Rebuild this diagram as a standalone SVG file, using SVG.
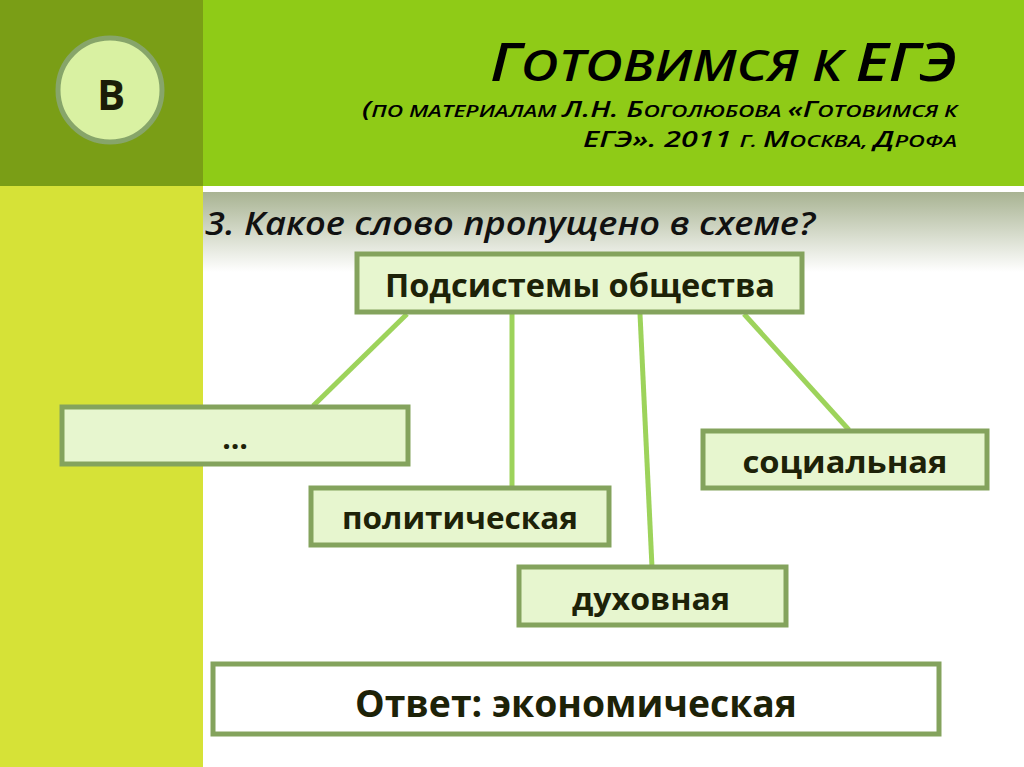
<svg xmlns="http://www.w3.org/2000/svg" width="1024" height="767" viewBox="0 0 1024 767">
<defs>
<linearGradient id="band" x1="0" y1="0" x2="0" y2="1">
<stop offset="0" stop-color="#a8b392"/>
<stop offset="1" stop-color="#ffffff"/>
</linearGradient>
<style>
.box{fill:#e7f6cf;stroke:#84a35d;stroke-width:5;}
.lbl{font-family:"Open Sans","Liberation Sans",sans-serif;font-weight:700;fill:#1d2208;text-anchor:middle;}
.conn{stroke:#9dd35b;stroke-width:5;fill:none;}
.hdr{font-family:"Open Sans","Liberation Sans",sans-serif;font-style:italic;font-weight:600;fill:#000;}
</style>
</defs>
<rect x="0" y="0" width="1024" height="767" fill="#ffffff"/>
<rect x="0" y="0" width="203" height="186" fill="#7a9e16"/>
<rect x="203" y="0" width="821" height="186" fill="#8fcb17"/>
<rect x="0" y="186" width="203" height="581" fill="#d6e237"/>
<rect x="203" y="192" width="821" height="80" fill="url(#band)"/>
<g id="badge">
<circle cx="110" cy="90" r="52" fill="#d9f1a2" stroke="#87a56a" stroke-width="5"/>
<text x="111" y="110" font-family="Open Sans,Liberation Sans,sans-serif" font-weight="700" font-size="42" fill="#1b1d08" text-anchor="middle">В</text>
</g>
<g id="title">
<text class="hdr" x="490" y="81" textLength="467" lengthAdjust="spacingAndGlyphs"><tspan font-size="52">Г</tspan><tspan font-size="43">ОТОВИМСЯ К </tspan><tspan font-size="52">ЕГЭ</tspan></text>
<text class="hdr" x="362" y="117" textLength="595" lengthAdjust="spacingAndGlyphs"><tspan font-size="21">(</tspan><tspan font-size="16">ПО МАТЕРИАЛАМ </tspan><tspan font-size="21">Л.Н. Б</tspan><tspan font-size="16">ОГОЛЮБОВА </tspan><tspan font-size="21">«Г</tspan><tspan font-size="16">ОТОВИМСЯ К</tspan></text>
<text class="hdr" x="583" y="147" textLength="374" lengthAdjust="spacingAndGlyphs"><tspan font-size="21">ЕГЭ». 2011 </tspan><tspan font-size="16">Г. </tspan><tspan font-size="21">М</tspan><tspan font-size="16">ОСКВА, </tspan><tspan font-size="21">Д</tspan><tspan font-size="16">РОФА</tspan></text>
</g>
<g id="question">
<text x="205" y="235" font-family="Open Sans,Liberation Sans,sans-serif" font-style="italic" font-weight="600" font-size="33" fill="#111" textLength="610" lengthAdjust="spacingAndGlyphs">3. Какое слово пропущено в схеме?</text>
</g>
<g id="connectors">
<line class="conn" x1="407" y1="314" x2="313" y2="406"/>
<line class="conn" x1="512" y1="314" x2="512" y2="488"/>
<line class="conn" x1="640" y1="314" x2="652" y2="567"/>
<line class="conn" x1="744" y1="314" x2="849" y2="430"/>
</g>
<g id="root">
<rect class="box" x="357" y="254" width="445" height="58"/>
<text class="lbl" x="580" y="297" font-size="33" textLength="390" lengthAdjust="spacingAndGlyphs">Подсистемы общества</text>
</g>
<g id="missing">
<rect class="box" x="62" y="407" width="346" height="57"/>
<text class="lbl" x="235" y="449" font-size="30">…</text>
</g>
<g id="political">
<rect class="box" x="311" y="488" width="298" height="57"/>
<text class="lbl" x="460" y="529" font-size="31" textLength="236" lengthAdjust="spacingAndGlyphs">политическая</text>
</g>
<g id="spiritual">
<rect class="box" x="519" y="567" width="267" height="58"/>
<text class="lbl" x="651" y="610" font-size="31" textLength="158" lengthAdjust="spacingAndGlyphs">духовная</text>
</g>
<g id="social">
<rect class="box" x="703" y="431" width="284" height="57"/>
<text class="lbl" x="845" y="473" font-size="31" textLength="205" lengthAdjust="spacingAndGlyphs">социальная</text>
</g>
<g id="answer">
<rect x="213" y="664" width="726" height="70" fill="#ffffff" stroke="#84a35d" stroke-width="5"/>
<text class="lbl" x="576" y="717" font-size="37" textLength="442" lengthAdjust="spacingAndGlyphs">Ответ: экономическая</text>
</g>
</svg>
